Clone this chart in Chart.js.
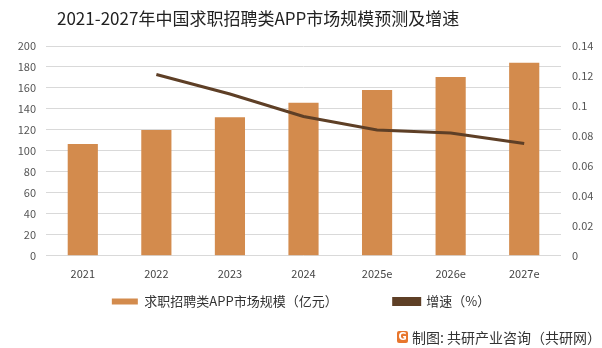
<!DOCTYPE html>
<html><head><meta charset="utf-8">
<script src="https://cdn.jsdelivr.net/npm/chart.js@4/dist/chart.umd.min.js"></script>
<style>
html,body{margin:0;padding:0;background:#fff;}
#wrap{position:relative;width:602px;height:348px;}
#title{position:absolute;left:57px;top:6px;font:17px "Noto Sans CJK SC",sans-serif;color:#222;white-space:nowrap;line-height:24px;}
#footer{position:absolute;left:397px;top:327px;font:14px "Noto Sans CJK SC",sans-serif;color:#333;white-space:nowrap;display:flex;align-items:center;}
#logo{display:inline-block;width:11px;height:12px;background:#E8762D;border-radius:2px;color:#fff;font:bold 10px "DejaVu Sans",sans-serif;line-height:12px;text-align:center;margin-right:4px;}
</style></head>
<body><div id="wrap"><canvas id="c" width="602" height="348"></canvas>
<div id="title">2021-2027年中国求职招聘类APP市场规模预测及增速</div>
<div id="footer"><span id="logo">G</span>制图: 共研产业咨询（共研网）</div></div>
<script>
const categories = ["2021","2022","2023","2024","2025e","2026e","2027e"];
const marketSize = [106.5, 120, 132, 146, 158, 170.5, 184];
const growthRate = [null, 0.121, 0.108, 0.093, 0.084, 0.082, 0.075];
const leftTicks = [0,20,40,60,80,100,120,140,160,180,200];
const rightTicks = [0,0.02,0.04,0.06,0.08,0.1,0.12,0.14];
const FONT = '"Noto Sans CJK SC", sans-serif';

new Chart(document.getElementById('c'), {
  data: {
    labels: categories,
    datasets: [
      {type:'line', label:'增速（%）', data: growthRate, yAxisID:'y1', borderColor:'#5E3F26', backgroundColor:'#5E3F26', borderWidth:3, pointRadius:0, tension:0, order:0},
      {type:'bar', label:'求职招聘类APP市场规模（亿元）\u3000\u3000\u3000\u3000\u2002', data: marketSize, yAxisID:'y', backgroundColor:'#D38B4D', categoryPercentage:1, barPercentage:0.41, order:1}
    ]
  },
  options: {
    responsive:false, animation:false,
    layout:{padding:{left:0,right:0,top:46,bottom:30}},
    plugins:{
      title:{display:false},
      legend:{position:'bottom', reverse:true, labels:{boxWidth:26, boxHeight:6, padding:4, color:'#333', font:{family:FONT, size:13}}},
      tooltip:{enabled:false}
    },
    scales:{
      x:{grid:{display:false, drawTicks:false}, border:{display:false}, ticks:{color:'#444', font:{family:FONT, size:11}, padding:11}},
      y:{position:'left', min:0, max:200, afterBuildTicks:a=>{a.ticks=leftTicks.map(v=>({value:v}));},
         afterFit:a=>{a.width=46;},
         grid:{color:'#D9D9D9', drawTicks:false}, border:{display:false},
         ticks:{color:'#555', font:{family:FONT, size:11}, padding:10}},
      y1:{position:'right', min:0, max:0.14, afterBuildTicks:a=>{a.ticks=rightTicks.map(v=>({value:v}));},
         afterFit:a=>{a.width=41;},
         grid:{display:false, drawTicks:false}, border:{display:false},
         ticks:{color:'#555', font:{family:FONT, size:11}, padding:11, callback:v=>String(+v.toFixed(2))}}
    }
  }
});
</script></body></html>
